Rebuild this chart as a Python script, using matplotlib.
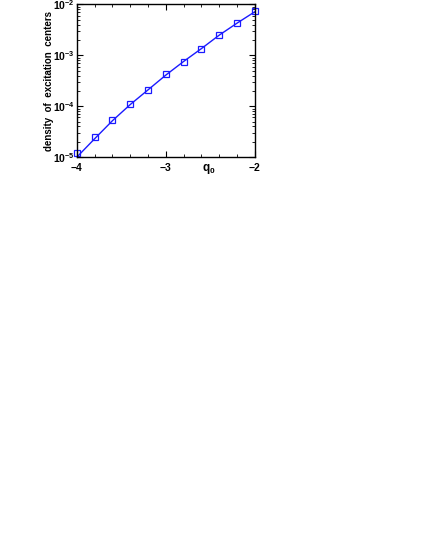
import math
import matplotlib
matplotlib.use("Agg")
import matplotlib.pyplot as plt
from matplotlib.ticker import FixedLocator, LogLocator, NullFormatter, FuncFormatter

q0 = [-4.0, -3.8, -3.6, -3.4, -3.2, -3.0, -2.8, -2.6, -2.4, -2.2, -2.0]
density = [1.2e-5, 2.44e-5, 5.4e-5, 1.09e-4, 2.05e-4, 4.25e-4, 7.5e-4, 1.36e-3, 2.56e-3, 4.35e-3, 7.3e-3]
fit_density = [1.0e-5, 2.3e-5, 5.2e-5, 1.08e-4, 2.1e-4, 4.1e-4, 7.6e-4, 1.36e-3, 2.5e-3, 4.3e-3, 7.2e-3]
xticks = [-4, -3, -2]
xticklabels = ["\u22124", "\u22123", "\u22122"]

plt.rcParams['font.family'] = ['Liberation Sans', 'DejaVu Sans']
plt.rcParams['mathtext.fontset'] = 'custom'
plt.rcParams['mathtext.rm'] = 'Liberation Sans:bold'
plt.rcParams['mathtext.it'] = 'Liberation Sans:bold'
plt.rcParams['mathtext.bf'] = 'Liberation Sans:bold'

fig = plt.figure(figsize=(4.32, 5.59), dpi=100)
ax = fig.add_axes([0.178, 0.719, 0.412, 0.273])

ax.plot(q0, fit_density, color='#1a1aff', lw=1.0)
ax.plot(q0, density, ls='none', marker='s', ms=3.8, mfc='none', mec='#1a1aff', mew=0.9, clip_on=False)

ax.set_yscale('log')
ax.set_xlim(-4, -2)
ax.set_ylim(1e-5, 1e-2)

ax.xaxis.set_major_locator(FixedLocator(xticks))
ax.set_xticklabels(xticklabels, fontweight='bold', fontsize=7.5)
ax.xaxis.set_minor_locator(FixedLocator([-3.8, -3.6, -3.4, -3.2, -2.8, -2.6, -2.4, -2.2]))
ax.yaxis.set_major_locator(LogLocator(base=10, numticks=10))
ax.yaxis.set_minor_locator(LogLocator(base=10, subs=range(2, 10), numticks=10))
ax.yaxis.set_minor_formatter(NullFormatter())
ax.yaxis.set_major_formatter(FuncFormatter(lambda v, p: r'$\mathbf{10^{%d}}$' % round(math.log10(v))))
ax.tick_params(axis='both', which='both', direction='in', top=True, right=True, pad=2)
ax.tick_params(axis='both', which='major', length=4, width=0.8, labelsize=7.5)
ax.tick_params(axis='x', which='major', pad=4)
ax.tick_params(axis='y', which='major', pad=1.5)
ax.tick_params(axis='both', which='minor', length=2, width=0.6)
for s in ax.spines.values():
    s.set_linewidth(1.0)

ax.set_ylabel("density  of  excitation  centers", fontweight='bold', fontsize=7.0)
ax.yaxis.set_label_coords(-0.128, 0.50)
ax.text(-2.52, -0.03, r'$\mathbf{q_0}$', transform=ax.get_xaxis_transform(), fontsize=8.5,
        ha='center', va='top')

fig.savefig("out.png", dpi=100)
